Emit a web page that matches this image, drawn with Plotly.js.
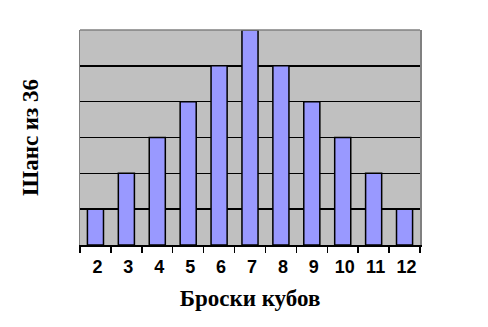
<!DOCTYPE html>
<html><head><meta charset="utf-8">
<script src="https://cdn.plot.ly/plotly-3.0.1.min.js"></script>
<style>body{margin:0;background:#fff}#c{width:488px;height:327px}</style>
</head><body><div id="c"></div>
<script>
const sums = ['2','3','4','5','6','7','8','9','10','11','12'];
const chances = [1,2,3,4,5,6,5,4,3,2,1];
const xTitle = 'Броски кубов';
const yTitle = 'Шанс из 36';

Plotly.newPlot('c', [{
  type: 'bar', x: sums, y: chances,
  marker: {color: '#9999ff', line: {color: '#000', width: 1.5}},
  width: 0.52
}], {
  width: 488, height: 327,
  margin: {l: 80, r: 68, t: 30, b: 82},
  paper_bgcolor: '#fff', plot_bgcolor: '#c0c0c0',
  showlegend: false,
  xaxis: {
    type: 'category', tickson: 'boundaries', ticks: 'outside', ticklen: 6, tickwidth: 1.5, tickcolor: '#000',
    showline: true, linecolor: '#000', linewidth: 1.5, showgrid: false,
    tickfont: {family: 'Liberation Sans, Arial, sans-serif', size: 18, color: '#000', weight: 'bold'},
    ticklabelstandoff: 5, ticklabelshift: 2,
    title: {text: '<b>' + xTitle + '</b>', font: {family: 'Liberation Serif, Times New Roman, serif', size: 23, color: '#000'}, standoff: 14}
  },
  yaxis: {
    range: [0, 6], dtick: 1, showticklabels: false, ticks: '',
    showgrid: true, gridcolor: '#000', gridwidth: 1.5, zeroline: false,
    showline: true, linecolor: '#808080', linewidth: 1.5, mirror: true,
    title: {text: '<b>' + yTitle + '</b>', font: {family: 'Liberation Serif, Times New Roman, serif', size: 23, color: '#000'}, standoff: 33}
  },
  shapes: [{type: 'line', xref: 'paper', yref: 'paper', x0: 0, x1: 1, y0: 1, y1: 1, line: {color: '#808080', width: 1.5}}]
}, {displayModeBar: false, staticPlot: true});
</script></body></html>
